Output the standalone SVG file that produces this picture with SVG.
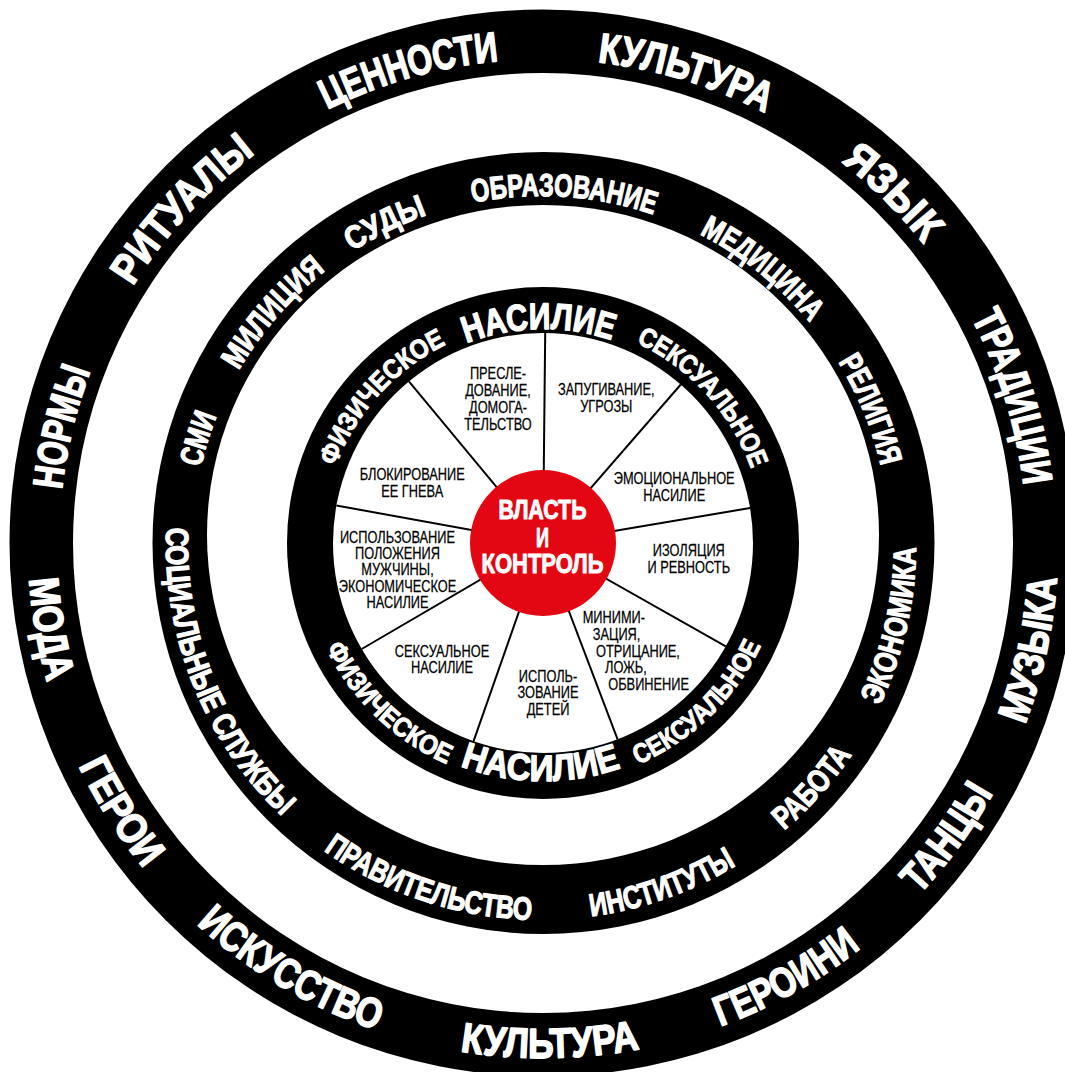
<svg xmlns="http://www.w3.org/2000/svg" xmlns:xlink="http://www.w3.org/1999/xlink" width="1065" height="1072" viewBox="0 0 1065 1072">
<style>
.band{fill:#000}
.gap{fill:#fff}
.rt{font-family:"Liberation Sans",Arial,sans-serif;font-weight:bold;fill:#fff;stroke:#fff;stroke-linejoin:round}
.o{font-size:42px;stroke-width:1.6px}
.m{font-size:32px;stroke-width:1.2px}
.ib{font-size:37px;stroke-width:1.4px}
.is{font-size:27px;stroke-width:1px}
.c{font-size:27px;stroke-width:1px}
.seg{font-family:"Liberation Sans",Arial,sans-serif;font-size:16px;fill:#000;stroke:#000;stroke-width:0.25px}
.spoke{stroke:#000;stroke-width:2;fill:none}
</style>
<defs>
<path id="ocw" d="M 1027 543 A 484 484 0 0 1 59 543 A 484 484 0 0 1 1027 543"/>
<path id="occw" d="M 1058 543 A 515 515 0 0 0 28 543 A 515 515 0 0 0 1058 543"/>
<path id="mcw" d="M 890 545 A 349 349 0 0 1 192 545 A 349 349 0 0 1 890 545"/>
<path id="mccw" d="M 916 545 A 375 375 0 0 0 166 545 A 375 375 0 0 0 916 545"/>
<path id="icw" d="M 764 543 A 221 221 0 0 1 322 543 A 221 221 0 0 1 764 543"/>
<path id="icwb" d="M 757 543 A 214 214 0 0 1 329 543 A 214 214 0 0 1 757 543"/>
<path id="iccw" d="M 784 543 A 241 241 0 0 0 302 543 A 241 241 0 0 0 784 543"/>
<path id="iccwb" d="M 781 543 A 238 238 0 0 0 305 543 A 238 238 0 0 0 781 543"/>
</defs>
<rect x="0" y="0" width="1065" height="1072" fill="#fff"/>

<g id="outer-ring">
<circle class="band" cx="543" cy="543" r="533.5"/>
<circle class="gap" cx="543" cy="543" r="470"/>
<text class="rt o"><textPath href="#ocw" startOffset="1573.7" textLength="122.5" lengthAdjust="spacingAndGlyphs">НОРМЫ</textPath></text>
<text class="rt o"><textPath href="#ocw" startOffset="1790.9" textLength="181.6" lengthAdjust="spacingAndGlyphs">РИТУАЛЫ</textPath></text>
<text class="rt o"><textPath href="#ocw" startOffset="2056.9" textLength="179.1" lengthAdjust="spacingAndGlyphs">ЦЕННОСТИ</textPath></text>
<text class="rt o"><textPath href="#ocw" startOffset="2334.9" textLength="176.6" lengthAdjust="spacingAndGlyphs">КУЛЬТУРА</textPath></text>
<text class="rt o"><textPath href="#ocw" startOffset="2601.8" textLength="116.6" lengthAdjust="spacingAndGlyphs">ЯЗЫК</textPath></text>
<text class="rt o"><textPath href="#ocw" startOffset="2806.2" textLength="176.6" lengthAdjust="spacingAndGlyphs">ТРАДИЦИИ</textPath></text>
<text class="rt o"><textPath href="#occw" startOffset="1653.9" textLength="105.2" lengthAdjust="spacingAndGlyphs">МОДА</textPath></text>
<text class="rt o"><textPath href="#occw" startOffset="1848.0" textLength="122.2" lengthAdjust="spacingAndGlyphs">ГЕРОИ</textPath></text>
<text class="rt o"><textPath href="#occw" startOffset="2046.7" textLength="210.3" lengthAdjust="spacingAndGlyphs">ИСКУССТВО</textPath></text>
<text class="rt o"><textPath href="#occw" startOffset="2343.3" textLength="180.7" lengthAdjust="spacingAndGlyphs">КУЛЬТУРА</textPath></text>
<text class="rt o"><textPath href="#occw" startOffset="2607.6" textLength="161.8" lengthAdjust="spacingAndGlyphs">ГЕРОИНИ</textPath></text>
<text class="rt o"><textPath href="#occw" startOffset="2848.5" textLength="125.8" lengthAdjust="spacingAndGlyphs">ТАНЦЫ</textPath></text>
<text class="rt o"><textPath href="#occw" startOffset="3049.8" textLength="151.0" lengthAdjust="spacingAndGlyphs">МУЗЫКА</textPath></text>
</g>

<g id="middle-ring">
<circle class="band" cx="543.5" cy="543" r="391"/>
<ellipse class="gap" cx="543" cy="535" rx="336" ry="330"/>
<text class="rt m"><textPath href="#mcw" startOffset="1174.4" textLength="53.6" lengthAdjust="spacingAndGlyphs">СМИ</textPath></text>
<text class="rt m"><textPath href="#mcw" startOffset="1278.5" textLength="133.4" lengthAdjust="spacingAndGlyphs">МИЛИЦИЯ</textPath></text>
<text class="rt m"><textPath href="#mcw" startOffset="1444.8" textLength="83.4" lengthAdjust="spacingAndGlyphs">СУДЫ</textPath></text>
<text class="rt m"><textPath href="#mcw" startOffset="1575.2" textLength="183.3" lengthAdjust="spacingAndGlyphs">ОБРАЗОВАНИЕ</textPath></text>
<text class="rt m"><textPath href="#mcw" startOffset="1808.5" textLength="142.5" lengthAdjust="spacingAndGlyphs">МЕДИЦИНА</textPath></text>
<text class="rt m"><textPath href="#mcw" startOffset="1999.1" textLength="113.3" lengthAdjust="spacingAndGlyphs">РЕЛИГИЯ</textPath></text>
<text class="rt m"><textPath href="#mccw" startOffset="1159.8" textLength="320.7" lengthAdjust="spacingAndGlyphs">СОЦИАЛЬНЫЕ СЛУЖБЫ</textPath></text>
<text class="rt m"><textPath href="#mccw" startOffset="1534.1" textLength="222.5" lengthAdjust="spacingAndGlyphs">ПРАВИТЕЛЬСТВО</textPath></text>
<text class="rt m"><textPath href="#mccw" startOffset="1816.2" textLength="155.1" lengthAdjust="spacingAndGlyphs">ИНСТИТУТЫ</textPath></text>
<text class="rt m"><textPath href="#mccw" startOffset="2030.3" textLength="102.1" lengthAdjust="spacingAndGlyphs">РАБОТА</textPath></text>
<text class="rt m"><textPath href="#mccw" startOffset="2188.6" textLength="163.6" lengthAdjust="spacingAndGlyphs">ЭКОНОМИКА</textPath></text>
</g>

<g id="inner-ring">
<circle class="band" cx="543" cy="543" r="256"/>
<text class="rt is"><textPath href="#icw" startOffset="772.2" textLength="168.6" lengthAdjust="spacingAndGlyphs">ФИЗИЧЕСКОЕ</textPath></text>
<text class="rt ib"><textPath href="#icwb" startOffset="929.7" textLength="148.3" lengthAdjust="spacingAndGlyphs">НАСИЛИЕ</textPath></text>
<text class="rt is"><textPath href="#icw" startOffset="1137.1" textLength="175.5" lengthAdjust="spacingAndGlyphs">СЕКСУАЛЬНОЕ</textPath></text>
<text class="rt is"><textPath href="#iccw" startOffset="865.2" textLength="171.2" lengthAdjust="spacingAndGlyphs">ФИЗИЧЕСКОЕ</textPath></text>
<text class="rt ib"><textPath href="#iccwb" startOffset="1036.3" textLength="164.5" lengthAdjust="spacingAndGlyphs">НАСИЛИЕ</textPath></text>
<text class="rt is"><textPath href="#iccw" startOffset="1232.8" textLength="175.0" lengthAdjust="spacingAndGlyphs">СЕКСУАЛЬНОЕ</textPath></text>
</g>

<g id="wheel">
<circle class="gap" cx="543" cy="543" r="210"/>
</g>

<g id="connectors">
<line class="spoke" x1="543" y1="543" x2="545.2" y2="333.0"/>
<line class="spoke" x1="543" y1="543" x2="680.8" y2="384.5"/>
<line class="spoke" x1="543" y1="543" x2="750.1" y2="508.0"/>
<line class="spoke" x1="543" y1="543" x2="725.8" y2="646.4"/>
<line class="spoke" x1="543" y1="543" x2="617.6" y2="739.3"/>
<line class="spoke" x1="543" y1="543" x2="473.6" y2="741.2"/>
<line class="spoke" x1="543" y1="543" x2="361.7" y2="649.0"/>
<line class="spoke" x1="543" y1="543" x2="336.4" y2="505.5"/>
<line class="spoke" x1="543" y1="543" x2="408.9" y2="381.4"/>
</g>

<g id="seg-stalking">
<text class="seg" text-anchor="middle" transform="translate(498 0) scale(0.8 1)"><tspan x="0" y="379">ПРЕСЛЕ-</tspan><tspan x="0" y="396">ДОВАНИЕ,</tspan><tspan x="0" y="413">ДОМОГА-</tspan><tspan x="0" y="430">ТЕЛЬСТВО</tspan></text>
</g>
<g id="seg-threats">
<text class="seg" text-anchor="middle" transform="translate(606.3 0) scale(0.8 1)"><tspan x="0" y="395">ЗАПУГИВАНИЕ,</tspan><tspan x="0" y="412">УГРОЗЫ</tspan></text>
</g>
<g id="seg-emotional">
<text class="seg" text-anchor="middle" transform="translate(674.2 0) scale(0.8 1)"><tspan x="0" y="484">ЭМОЦИОНАЛЬНОЕ</tspan><tspan x="0" y="501">НАСИЛИЕ</tspan></text>
</g>
<g id="seg-isolation">
<text class="seg" text-anchor="middle" transform="translate(688.8 0) scale(0.8 1)"><tspan x="0" y="556">ИЗОЛЯЦИЯ</tspan><tspan x="0" y="573">И РЕВНОСТЬ</tspan></text>
</g>
<g id="seg-minimizing">
<text class="seg" transform="translate(582.7 0) scale(0.8 1)"><tspan x="0" y="623">МИНИМИ-</tspan><tspan x="12.5" y="640">ЗАЦИЯ,</tspan><tspan x="16.6" y="657">ОТРИЦАНИЕ,</tspan><tspan x="27.9" y="673">ЛОЖЬ,</tspan><tspan x="32" y="690">ОБВИНЕНИЕ</tspan></text>
</g>
<g id="seg-children">
<text class="seg" text-anchor="middle" transform="translate(548 0) scale(0.8 1)"><tspan x="0" y="682">ИСПОЛЬ-</tspan><tspan x="0" y="698">ЗОВАНИЕ</tspan><tspan x="0" y="715">ДЕТЕЙ</tspan></text>
</g>
<g id="seg-sexual">
<text class="seg" text-anchor="middle" transform="translate(442 0) scale(0.8 1)"><tspan x="0" y="657">СЕКСУАЛЬНОЕ</tspan><tspan x="0" y="673">НАСИЛИЕ</tspan></text>
</g>
<g id="seg-privilege">
<text class="seg" text-anchor="middle" transform="translate(397.5 0) scale(0.8 1)"><tspan x="0" y="543">ИСПОЛЬЗОВАНИЕ</tspan><tspan x="0" y="559">ПОЛОЖЕНИЯ</tspan><tspan x="0" y="575">МУЖЧИНЫ,</tspan><tspan x="0" y="592">ЭКОНОМИЧЕСКОЕ</tspan><tspan x="0" y="608">НАСИЛИЕ</tspan></text>
</g>
<g id="seg-anger">
<text class="seg" text-anchor="middle" transform="translate(412.2 0) scale(0.8 1)"><tspan x="0" y="480">БЛОКИРОВАНИЕ</tspan><tspan x="0" y="497">ЕЕ ГНЕВА</tspan></text>
</g>

<g id="center">
<circle cx="543" cy="543" r="73" fill="#e30613"/>
<text class="rt c" text-anchor="middle" x="542.5" y="519" textLength="88" lengthAdjust="spacingAndGlyphs">ВЛАСТЬ</text>
<text class="rt c" text-anchor="middle" x="542.5" y="547" textLength="13" lengthAdjust="spacingAndGlyphs">И</text>
<text class="rt c" text-anchor="middle" x="542.5" y="573" textLength="122" lengthAdjust="spacingAndGlyphs">КОНТРОЛЬ</text>
</g>
</svg>
